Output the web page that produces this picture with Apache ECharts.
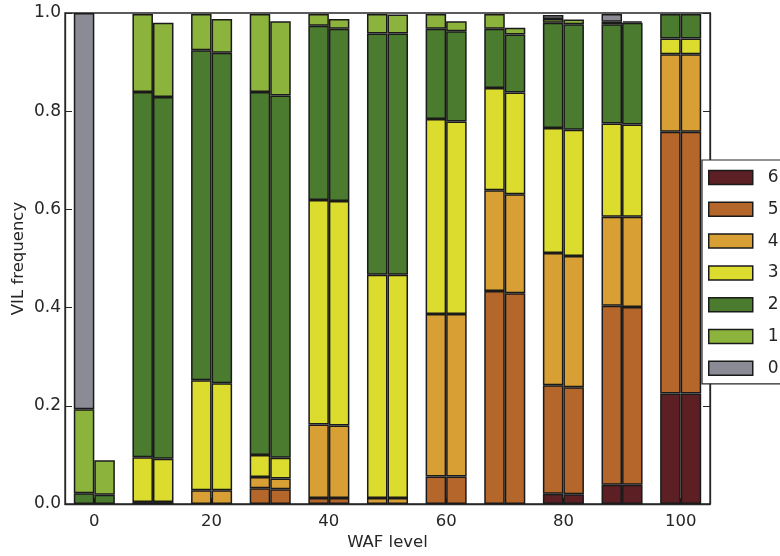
<!DOCTYPE html>
<html><head><meta charset="utf-8">
<script src="https://cdn.jsdelivr.net/npm/echarts@6/dist/echarts.min.js"></script>
<style>html,body{margin:0;padding:0;background:#fff}#c{width:780px;height:556px}</style>
</head><body><div id="c"></div>
<script>
var categories = ['0','10','20','30','40','50','60','70','80','90','100'];
var levels = ['6','5','4','3','2','1','0'];
var colors = ['#5b1f24','#b5672b','#d8a034','#dcdc2e','#4a7b2f','#8cb43c','#8b8b95'];
// first bar of each pair (segment heights, bottom to top by level)
var a6 = [0,     0,     0,     0,     0,     0,     0,     0,     0.021, 0.039, 0.225];
var a5 = [0,     0,     0,     0.032, 0.012, 0,     0.056, 0.434, 0.221, 0.365, 0.533];
var a4 = [0,     0.004, 0.028, 0.023, 0.150, 0.012, 0.331, 0.205, 0.269, 0.181, 0.158];
var a3 = [0,     0.091, 0.224, 0.045, 0.457, 0.455, 0.397, 0.208, 0.255, 0.190, 0.032];
var a2 = [0.022, 0.744, 0.672, 0.739, 0.355, 0.491, 0.184, 0.121, 0.214, 0.202, 0.050];
var a1 = [0.171, 0.159, 0.074, 0.159, 0.024, 0.040, 0.030, 0.030, 0.008, 0.005, 0];
var a0 = [0.807, 0,     0,     0,     0,     0,     0,     0,     0.008, 0.016, 0];
// second bar of each pair
var b6 = [0,     0,     0,     0,     0,     0,     0,     0,     0.020, 0.039, 0.225];
var b5 = [0,     0,     0,     0.030, 0.012, 0,     0.056, 0.429, 0.218, 0.362, 0.533];
var b4 = [0,     0.004, 0.028, 0.022, 0.148, 0.012, 0.331, 0.202, 0.267, 0.184, 0.158];
var b3 = [0,     0.088, 0.218, 0.042, 0.457, 0.455, 0.392, 0.207, 0.257, 0.188, 0.032];
var b2 = [0.019, 0.737, 0.673, 0.738, 0.351, 0.491, 0.184, 0.118, 0.215, 0.207, 0.050];
var b1 = [0.070, 0.151, 0.069, 0.151, 0.020, 0.039, 0.020, 0.014, 0.010, 0.003, 0];
var b0 = [0,     0,     0,     0,     0,     0,     0,     0,     0,     0,     0];
var yTicks = ['0.0','0.2','0.4','0.6','0.8','1.0'];

var A = [a6,a5,a4,a3,a2,a1,a0];
var B = [b6,b5,b4,b3,b2,b1,b0];
var font = 'DejaVu Sans';
var ink = '#262626';

function mk(arr, i, stack) {
  return {
    type: 'bar', name: levels[i], stack: stack,
    barWidth: '35%', barGap: '0%',
    data: arr.map(function(v){ return v === 0 ? '-' : v; }),
    itemStyle: { color: colors[i], borderColor: '#1a1a1a', borderWidth: 1.5 },
    emphasis: { disabled: true },
    animation: false
  };
}
var series = [];
A.forEach(function(arr, i){ series.push(mk(arr, i, 'A')); });
B.forEach(function(arr, i){ series.push(mk(arr, i, 'B')); });

var chart = echarts.init(document.getElementById('c'), null, {renderer: 'canvas'});
chart.setOption({
  animation: false,
  backgroundColor: '#fff',
  textStyle: { fontFamily: font },
  grid: { left: 65, right: 70, top: 13, bottom: 46, show: true, borderColor: ink, borderWidth: 1.3, containLabel: false },
  legend: {
    data: levels, orient: 'vertical', left: 702, top: 160,
    padding: [9, 40, 7, 6], itemWidth: 44, itemHeight: 14, itemGap: 14.8,
    backgroundColor: '#fff', borderColor: ink, borderWidth: 1.2, borderRadius: 0,
    icon: 'rect',
    itemStyle: { borderColor: '#1a1a1a', borderWidth: 1.5 },
    textStyle: { fontFamily: font, fontSize: 17, color: ink, lineHeight: 14, padding: [0, 0, 0, 10] },
    selectedMode: false, z: 10
  },
  xAxis: [{
    type: 'category', data: categories, boundaryGap: true,
    name: 'WAF level', nameLocation: 'middle', nameGap: 30, nameMoveOverlap: false,
    nameTextStyle: { fontFamily: font, fontSize: 16.5, color: ink },
    axisLine: { lineStyle: { color: ink, width: 1.3 } },
    axisTick: { show: true, inside: true, length: 6, alignWithLabel: true, interval: 1, lineStyle: { color: ink } },
    axisLabel: { interval: 1, margin: 9, fontFamily: font, fontSize: 16.5, color: ink },
    splitLine: { show: false }
  }],
  yAxis: [{
    type: 'value', min: 0, max: 1, interval: 0.2,
    name: 'VIL frequency', nameLocation: 'middle', nameGap: 38, nameMoveOverlap: false,
    nameTextStyle: { fontFamily: font, fontSize: 16.5, color: ink },
    axisLine: { show: true, lineStyle: { color: ink, width: 1.3 } },
    axisTick: { show: true, inside: true, length: 7, lineStyle: { color: ink } },
    axisLabel: { margin: 4, fontFamily: font, fontSize: 17, color: ink,
      formatter: function(v){ return yTicks[Math.round(v / 0.2)]; } },
    splitLine: { show: false }
  }, {
    type: 'value', min: 0, max: 1, interval: 0.2, position: 'right',
    axisLine: { show: true, lineStyle: { color: ink, width: 1.3 } },
    axisTick: { show: true, inside: true, length: 7, lineStyle: { color: ink } },
    axisLabel: { show: false }, splitLine: { show: false }
  }],
  series: series
});
</script></body></html>
